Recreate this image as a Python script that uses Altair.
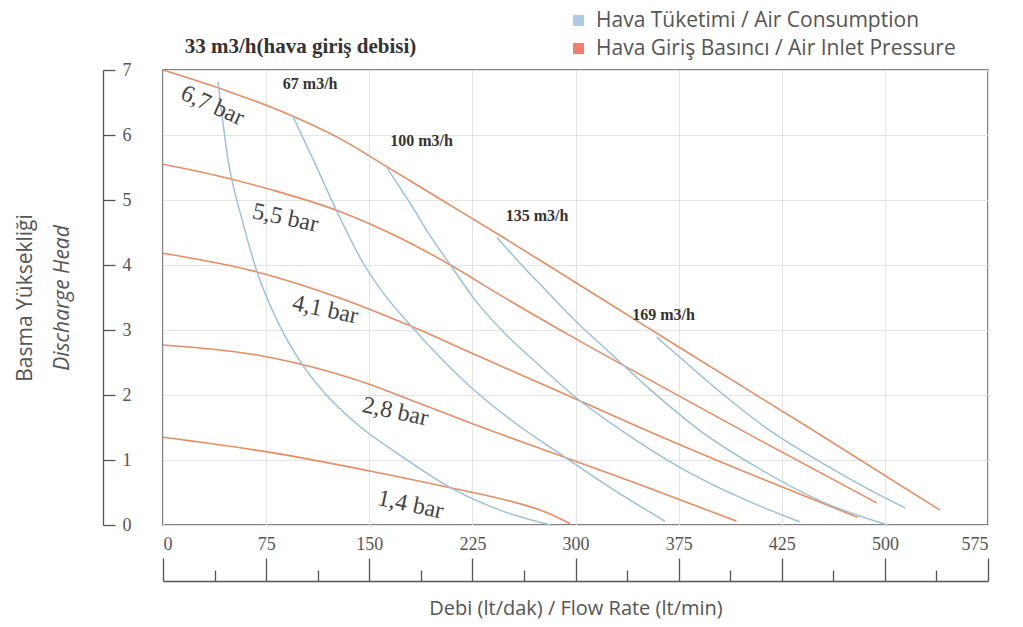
import altair as alt
import pandas as pd

# ---------------- data (flow in lt/min, head) ----------------
x_ticks = [0, 75, 150, 225, 300, 375, 425, 500, 575]
x_minor = [37.5, 112.5, 187.5, 262.5, 337.5, 400, 462.5, 537.5]
y_ticks = [0, 1, 2, 3, 4, 5, 6, 7]

# air inlet pressure curves
p67_flow = [0, 45, 92, 129, 163, 205, 247, 325, 376, 446, 540]
p67_head = [7.0, 6.69, 6.31, 5.94, 5.51, 4.97, 4.43, 3.40, 2.72, 1.48, 0.23]
p55_flow = [0, 38, 80, 129, 172, 209, 245, 298, 349, 414, 494]
p55_head = [5.55, 5.38, 5.15, 4.82, 4.42, 4.00, 3.54, 2.89, 2.29, 1.31, 0.34]
p41_flow = [0, 69, 129, 178, 226, 299, 348, 410, 480]
p41_head = [4.18, 3.89, 3.49, 3.08, 2.63, 1.95, 1.49, 0.78, 0.12]
p28_flow = [0, 80, 141, 189, 226, 287, 347, 403]
p28_head = [2.77, 2.57, 2.23, 1.85, 1.55, 1.08, 0.62, 0.06]
p14_flow = [0, 80, 153, 214, 252, 278, 296]
p14_head = [1.35, 1.11, 0.82, 0.55, 0.37, 0.20, 0.02]

# air consumption curves
c33_flow = [40, 47, 58, 68, 85, 100, 118, 143, 172, 212, 245, 282]
c33_head = [6.82, 5.66, 4.66, 3.92, 3.06, 2.51, 2.02, 1.52, 1.08, 0.54, 0.23, 0.0]
c67_flow = [94, 111, 127, 145, 163, 178, 202, 226, 256, 287, 325, 365]
c67_head = [6.31, 5.54, 4.80, 4.05, 3.49, 3.12, 2.57, 2.08, 1.57, 1.12, 0.58, 0.06]
c100_flow = [163, 180, 194, 209, 227, 249, 274, 298, 333, 376, 405, 438]
c100_head = [5.49, 4.94, 4.46, 4.00, 3.46, 2.94, 2.45, 2.00, 1.46, 0.88, 0.42, 0.05]
c135_flow = [243, 260, 278, 301, 325, 354, 385, 415, 453, 502]
c135_head = [4.42, 4.02, 3.62, 3.12, 2.65, 2.09, 1.46, 0.85, 0.37, 0.0]
c169_flow = [359, 376, 395, 419, 453, 489, 515]
c169_head = [2.89, 2.57, 2.05, 1.46, 0.97, 0.54, 0.26]

pressure_names = ["6,7 bar", "5,5 bar", "4,1 bar", "2,8 bar", "1,4 bar"]
consumption_names = ["33 m3/h", "67 m3/h", "100 m3/h", "135 m3/h", "169 m3/h"]

# labels
bar_text_steep = ["6,7 bar"]
bar_flow_steep = [36]
bar_head_steep = [6.45]
bar_text = ["5,5 bar", "4,1 bar", "2,8 bar", "1,4 bar"]
bar_flow = [89, 118, 169, 180]
bar_head = [4.72, 3.31, 1.74, 0.31]
flow_text = ["67  m3/h", "100  m3/h", "135  m3/h", "169  m3/h"]
flow_lab_x = [107, 188, 272, 364]
flow_lab_y = [6.78, 5.91, 4.75, 3.23]
head_title = ["33 m3/h(hava giriş debisi)"]
head_title_x = [100]
head_title_y = [7.35]

series_names = ["Hava Tüketimi / Air Consumption", "Hava Giriş Basıncı / Air Inlet Pressure"]

# ---------------- tables ----------------
def curves(names, flows, heads):
    rows = []
    for n, fx, hy in zip(names, flows, heads):
        for a, b in zip(fx, hy):
            rows.append({"curve": n, "flow": a, "head": b})
    return pd.DataFrame(rows)

press_df = curves(pressure_names,
                  [p67_flow, p55_flow, p41_flow, p28_flow, p14_flow],
                  [p67_head, p55_head, p41_head, p28_head, p14_head])
cons_df = curves(consumption_names,
                 [c33_flow, c67_flow, c100_flow, c135_flow, c169_flow],
                 [c33_head, c67_head, c100_head, c135_head, c169_head])
bar_df = pd.DataFrame({"text": bar_text, "flow": bar_flow, "head": bar_head})
bar_steep_df = pd.DataFrame({"text": bar_text_steep, "flow": bar_flow_steep, "head": bar_head_steep})
flow_df = pd.DataFrame({"text": flow_text, "flow": flow_lab_x, "head": flow_lab_y})
title_df = pd.DataFrame({"text": head_title, "flow": head_title_x, "head": head_title_y})
legend_df = pd.DataFrame({"series": series_names})

# ---------------- styling ----------------
W, H = 825, 455
SERIF = "Liberation Serif"
SANS = "Open Sans"
GREY = "#555555"
ORANGE = "#e58e64"
BLUE = "#98bfd8"

xscale = alt.Scale(domain=[0, 375, 425, 575], range=[0, W * 5 / 8, W * 6 / 8, W], nice=False, zero=False)
yscale = alt.Scale(domain=[0, 7], nice=False, zero=False)

press = alt.Chart(press_df).mark_line(color=ORANGE, strokeWidth=1.6, interpolate="monotone").encode(
    x=alt.X("flow:Q", scale=xscale, axis=alt.Axis(
        orient="bottom", values=x_ticks, grid=True, gridColor="#e4e4e4", ticks=False, domain=False,
        labelFont=SERIF, labelFontSize=18, labelColor=GREY, labelPadding=10,
        title="Debi (lt/dak) / Flow Rate (lt/min)", titleFont=SANS, titleFontSize=20,
        titleFontWeight="normal", titleColor=GREY, titleY=83, titleBaseline="middle")),
    y=alt.Y("head:Q", scale=yscale, axis=alt.Axis(
        values=y_ticks, grid=True, gridColor="#e4e4e4", labels=False, ticks=False, domain=False,
        title="Discharge Head", titleFont=SANS, titleFontSize=21, titleFontStyle="italic",
        titleFontWeight="normal", titleColor=GREY, titleAngle=270, titleX=-101, titleY=H / 2,
        titleAlign="center", titleBaseline="middle")),
    detail="curve:N",
)

cons = alt.Chart(cons_df).mark_line(color=BLUE, strokeWidth=1.4, interpolate="monotone").encode(
    x=alt.X("flow:Q", scale=xscale, axis=alt.Axis(
        orient="top", offset=-511, values=x_ticks, labels=False, grid=False, tickSize=23,
        tickColor=GREY, tickWidth=1.3, domainColor=GREY, domainWidth=1.3, title=None)),
    y=alt.Y("head:Q", scale=yscale, axis=alt.Axis(
        orient="right", offset=-885, values=y_ticks, grid=False, tickSize=12, tickColor=GREY,
        tickWidth=1.3, domainColor=GREY, domainWidth=1.3, labelPadding=7, labelFont=SERIF,
        labelFontSize=18, labelColor=GREY,
        title="Basma Yüksekliği", titleFont=SANS, titleFontSize=21, titleFontWeight="normal",
        titleColor=GREY, titleAngle=270, titleX=-78, titleY=H / 2, titleAlign="center",
        titleBaseline="middle")),
    detail="curve:N",
)

bar_lab = alt.Chart(bar_df).mark_text(font=SERIF, fontSize=24, color="#444444", angle=12).encode(
    x=alt.X("flow:Q", scale=xscale, axis=alt.Axis(
        orient="top", offset=-511, values=x_minor, labels=False, grid=False, domain=False,
        tickSize=11, tickColor=GREY, tickWidth=1.3, title=None)),
    y=alt.Y("head:Q", scale=yscale, axis=None),
    text="text:N",
)

bar_lab_steep = alt.Chart(bar_steep_df).mark_text(font=SERIF, fontSize=24, color="#444444", angle=24).encode(
    x=alt.X("flow:Q", scale=xscale, axis=None),
    y=alt.Y("head:Q", scale=yscale, axis=None),
    text="text:N",
)

flow_lab = alt.Chart(flow_df).mark_text(font=SERIF, fontSize=16, fontWeight="bold", color="#333333").encode(
    x=alt.X("flow:Q", scale=xscale, axis=None),
    y=alt.Y("head:Q", scale=yscale, axis=None),
    text="text:N",
)

title_lab = alt.Chart(title_df).mark_text(font=SERIF, fontSize=21, fontWeight="bold", color="#333333").encode(
    x=alt.X("flow:Q", scale=xscale, axis=None),
    y=alt.Y("head:Q", scale=yscale, axis=None),
    text="text:N",
)

legend_layer = alt.Chart(legend_df).mark_square(size=110).encode(
    color=alt.Color("series:N", scale=alt.Scale(domain=series_names, range=["#86b6dc", "#e8472f"]),
                    legend=alt.Legend(title=None, orient="none", legendX=405, legendY=-60,
                                      symbolType="square", symbolSize=120, symbolStrokeWidth=0,
                                      labelFont=SANS, labelFontSize=21, labelColor=GREY,
                                      labelLimit=390, labelOffset=7, rowPadding=6, padding=0)),
).transform_filter("false")

chart = alt.layer(
    press, cons, bar_lab, bar_lab_steep, flow_lab, title_lab, legend_layer
).resolve_axis(x="independent", y="independent").properties(
    width=W, height=H, autosize="none",
    padding={"left": 155, "top": 62, "right": 27, "bottom": 94},
).configure_view(stroke="#5a5a5a", strokeWidth=1.5)

chart.save("out.html", embed_options={"renderer": "svg", "actions": False})
